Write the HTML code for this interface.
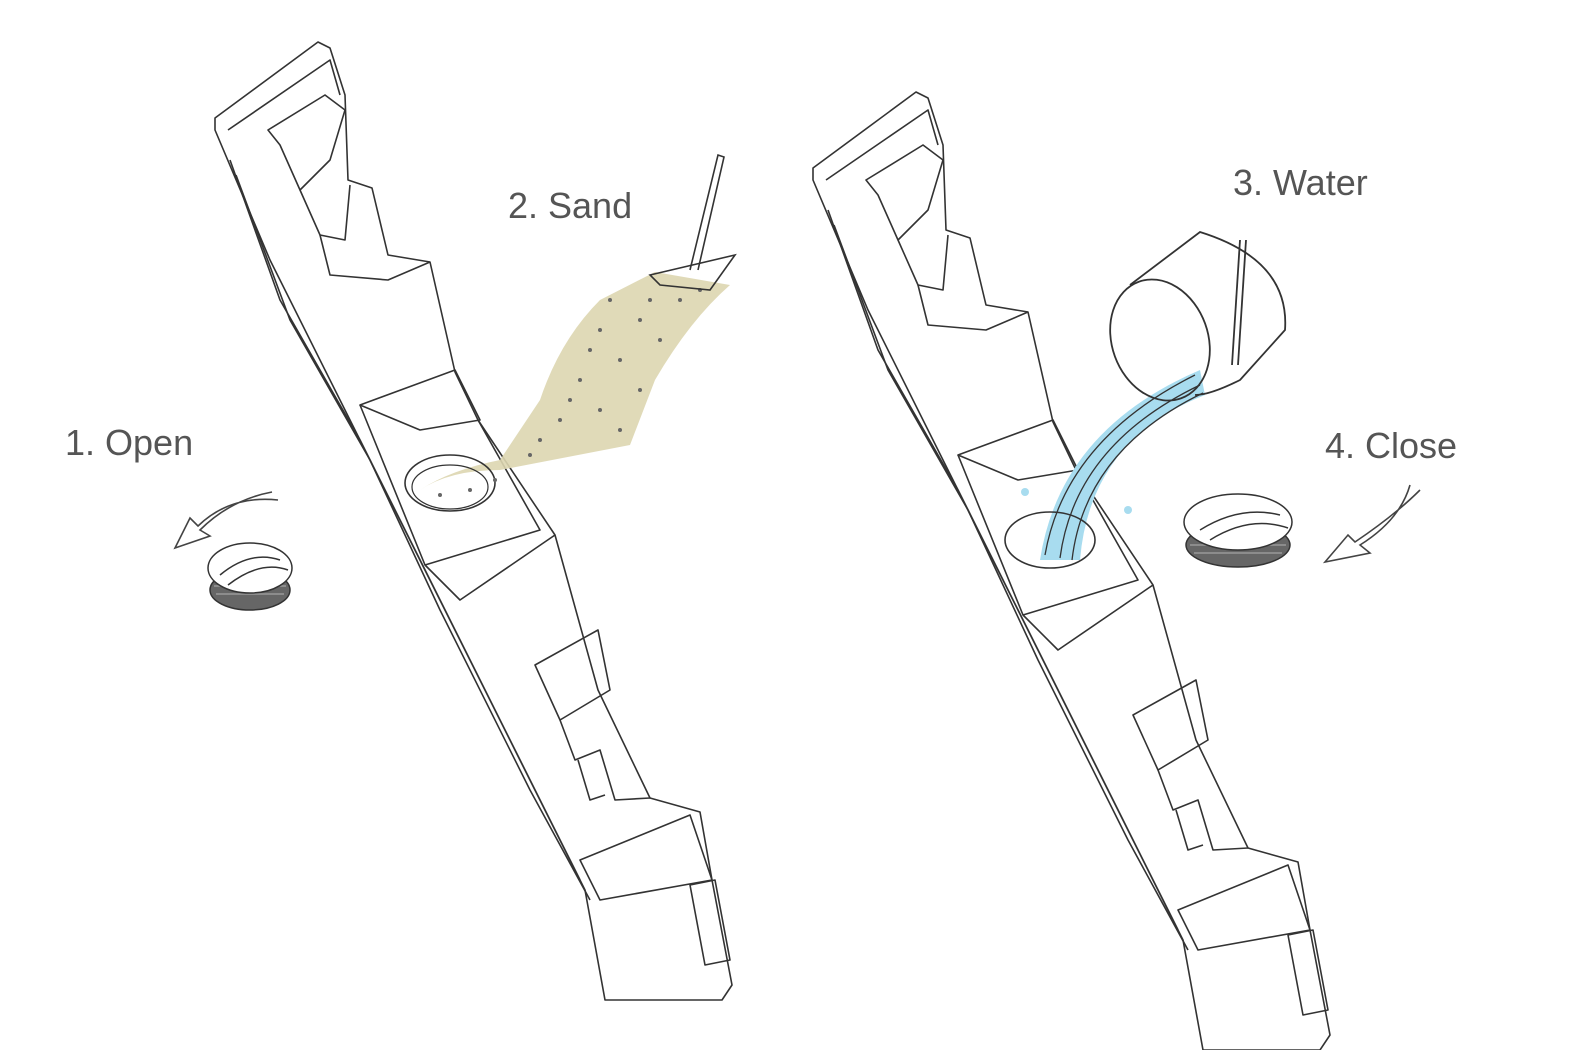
<!DOCTYPE html>
<html><head><meta charset="utf-8"><style>
html,body{margin:0;padding:0;background:#fff;}
svg{display:block}
text{font-family:"Liberation Sans",sans-serif;fill:#555;font-size:36px}
</style></head><body>
<svg width="1575" height="1050" viewBox="0 0 1575 1050" xmlns="http://www.w3.org/2000/svg">
<defs>
<g id="barrier" fill="none" stroke="#333" stroke-width="1.6" stroke-linejoin="round">
  <path d="M215,118 L318,42 L330,48 L345,95 L348,180 L372,188 L388,255 L430,262 L455,372 L478,420 L555,535 L598,690 L650,798 L700,812 L712,880 L732,985 L722,1000 L605,1000 L585,890 L520,760 L440,600 L350,420 L270,260 L215,130 Z" fill="#fff"/>
  <path d="M228,130 L330,60 L340,95"/>
  <path d="M230,160 L280,300 L360,440 L430,580 L520,760 L580,880"/>
  <path d="M236,175 L290,320 L370,460 L440,610 L530,790 L590,900"/>
  <path d="M268,130 L325,95 L345,110 L330,160 L300,190 L280,145 Z"/>
  <path d="M300,190 L320,235 L345,240 L350,185"/>
  <path d="M320,235 L330,275 L388,280 L430,262"/>
  <path d="M360,405 L455,370 L480,420 L420,430 Z"/>
  <path d="M360,405 L425,565 L540,530 L478,420"/>
  <path d="M425,565 L460,600 L555,535"/>
  <path d="M535,665 L598,630 L610,690 L560,720 Z"/>
  <path d="M560,720 L575,760 L600,750 L615,800 L650,798"/>
  <path d="M580,860 L690,815 L712,880 L600,900 Z"/>
  <path d="M690,885 L715,880 L730,960 L705,965 Z"/>
  <path d="M578,760 L590,800 L605,795"/>
</g>
</defs>

<use href="#barrier"/>
<use href="#barrier" transform="translate(598,50)"/>

<!-- sand -->
<path d="M420,490 Q450,470 500,470 L630,445 L655,380 Q690,320 730,285 L655,272 L600,300 Q560,340 540,400 L500,460 Q450,470 420,490 Z" fill="#ddd6b0" opacity="0.9"/>
<ellipse cx="450" cy="483" rx="45" ry="28" fill="none" stroke="#333" stroke-width="1.6"/>
<ellipse cx="450" cy="487" rx="38" ry="22" fill="none" stroke="#333" stroke-width="1.2"/>
<g fill="#666">
<circle cx="600" cy="330" r="2"/><circle cx="640" cy="320" r="2"/><circle cx="580" cy="380" r="2"/><circle cx="620" cy="360" r="2"/><circle cx="560" cy="420" r="2"/><circle cx="600" cy="410" r="2"/><circle cx="680" cy="300" r="2"/><circle cx="540" cy="440" r="2"/><circle cx="470" cy="490" r="2"/><circle cx="440" cy="495" r="2"/><circle cx="660" cy="340" r="2"/><circle cx="620" cy="430" r="2"/><circle cx="700" cy="290" r="2"/><circle cx="590" cy="350" r="2"/>
<circle cx="610" cy="300" r="2"/><circle cx="650" cy="300" r="2"/><circle cx="570" cy="400" r="2"/><circle cx="530" cy="455" r="2"/><circle cx="495" cy="480" r="2"/><circle cx="640" cy="390" r="2"/>
</g>
<!-- scoop -->
<g fill="none" stroke="#333" stroke-width="1.6">
<path d="M650,275 L735,255 L710,290 L660,285 Z"/>
<path d="M690,270 L718,155 L724,157 L698,270"/>
</g>

<!-- water -->
<path d="M1040,560 Q1060,430 1200,370 L1205,395 Q1090,440 1080,560 Z" fill="#a8dcef"/>
<g fill="none" stroke="#333" stroke-width="1.3">
<path d="M1045,555 Q1065,440 1195,375"/><path d="M1060,558 Q1075,445 1200,385"/><path d="M1072,560 Q1085,450 1203,393"/>
</g>
<circle cx="1025" cy="492" r="4" fill="#a8dcef"/><circle cx="1128" cy="510" r="4" fill="#a8dcef"/>
<ellipse cx="1050" cy="540" rx="45" ry="28" fill="none" stroke="#333" stroke-width="1.6"/>
<!-- bucket -->
<g fill="none" stroke="#333" stroke-width="1.8">
<ellipse cx="1160" cy="340" rx="48" ry="62" transform="rotate(-20 1160 340)"/>
<path d="M1130,285 L1200,232 Q1290,260 1285,330 L1240,380 Q1210,395 1195,395"/>
<path d="M1240,240 L1232,365"/>
<path d="M1246,240 L1238,365"/>
</g>

<!-- caps -->
<g stroke="#333" stroke-width="1.5">
<ellipse cx="250" cy="590" rx="40" ry="20" fill="#666"/>
<path d="M214,586 L286,586 M216,594 L284,594" stroke="#999" fill="none"/>
<ellipse cx="250" cy="568" rx="42" ry="25" fill="#fff"/>
<path d="M220,575 Q250,550 280,560 M228,585 Q260,560 288,570" fill="none"/>
<ellipse cx="1238" cy="545" rx="52" ry="22" fill="#666"/>
<path d="M1190,545 L1286,545 M1194,553 L1282,553" stroke="#999" fill="none"/>
<ellipse cx="1238" cy="522" rx="54" ry="28" fill="#fff"/>
<path d="M1200,530 Q1240,505 1280,515 M1210,540 Q1250,515 1288,528" fill="none"/>
</g>
<!-- arrows -->
<g fill="none" stroke="#444" stroke-width="1.6">
<path d="M272,492 Q230,500 200,530 L210,536 L175,548 L190,518 L198,526 Q230,495 278,500"/>
<path d="M1410,485 Q1400,520 1360,545 L1370,553 L1325,562 L1348,535 L1355,542 Q1395,515 1420,490"/>
</g>

<text x="65" y="455">1. Open</text>
<text x="508" y="218">2. Sand</text>
<text x="1233" y="195">3. Water</text>
<text x="1325" y="458">4. Close</text>
</svg>
</body></html>
